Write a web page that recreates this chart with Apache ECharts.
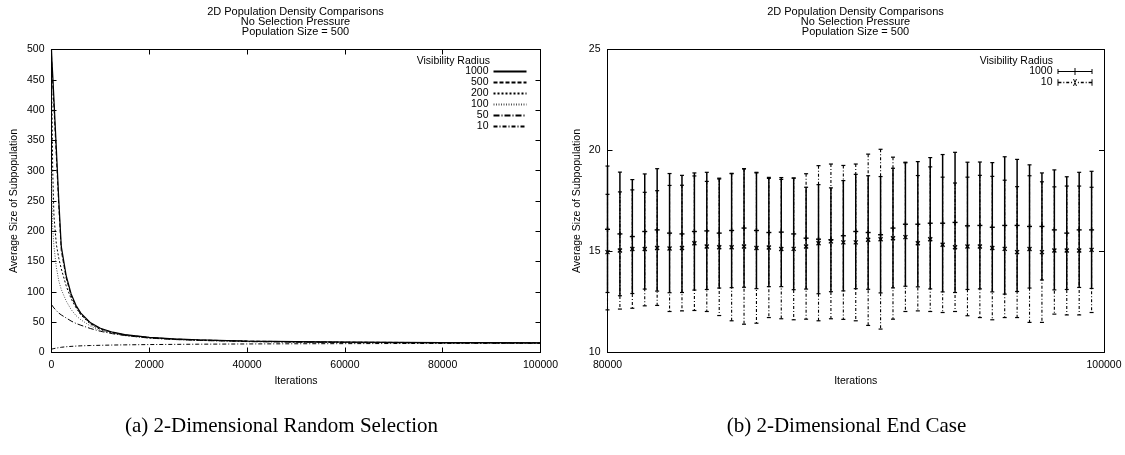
<!DOCTYPE html>
<html><head><meta charset="utf-8">
<script src="https://cdn.jsdelivr.net/npm/echarts@6/dist/echarts.min.js"></script>
<style>html,body{margin:0;padding:0;background:#fff}#c{width:1125px;height:455px}</style>
</head><body><div id="c"></div>
<script>
// ---- Left chart: average subpopulation size vs iterations ----
const iterLeft = [0, 100, 250, 500, 1000, 1500, 2000, 3000, 4000, 5000, 6000, 8000, 10000, 12500, 15000, 20000, 25000, 30000, 40000, 50000, 60000, 70000, 80000, 90000, 100000];
const r1000 = [500, 480, 458, 418, 335, 250, 175, 127, 97, 78, 65, 49, 40, 33.5, 29.5, 25, 22.5, 21, 19, 18, 17.3, 16.8, 16.4, 16.2, 16.0];
const r500  = [490, 468, 445, 405, 322, 240, 168, 123, 94, 76, 63, 48, 39, 33, 29, 24.8, 22.2, 20.7, 18.8, 17.8, 17.1, 16.7, 16.3, 16.1, 16.0];
const r200  = [480, 400, 300, 225, 178, 155, 138, 110, 89, 74, 62, 46.5, 38, 32.5, 28.5, 24.3, 21.8, 20.4, 18.4, 17.5, 16.9, 16.5, 16.2, 16.0, 15.9];
const r100  = [300, 250, 205, 175, 140, 118, 104, 85, 71, 61, 54, 43.5, 36.5, 31.5, 28, 23.8, 21.4, 20, 18.1, 17.2, 16.7, 16.3, 16.0, 15.8, 15.7];
const r50   = [79, 78, 76, 73.5, 69, 65, 62, 57, 52, 48, 45, 39.5, 35, 31, 28, 23.8, 21.5, 20, 18, 17, 16.4, 16, 15.8, 15.6, 15.5];
const r10   = [5.5, 5.7, 6, 6.5, 7.3, 8, 8.6, 9.5, 10.1, 10.6, 11, 11.5, 11.9, 12.3, 12.6, 13.1, 13.4, 13.7, 14.1, 14.4, 14.6, 14.8, 14.9, 15, 15];
const leftNames = ['1000', '500', '200', '100', '50', '10'];

// ---- Right chart: end case, mean +/- std ----
const iterRight = [80000, 80500, 81000, 81500, 82000, 82500, 83000, 83500, 84000, 84500,
  85000, 85500, 86000, 86500, 87000, 87500, 88000, 88500, 89000, 89500,
  90000, 90500, 91000, 91500, 92000, 92500, 93000, 93500, 94000, 94500,
  95000, 95500, 96000, 96500, 97000, 97500, 98000, 98500, 99000, 99500];
const mean1000 = [16.1, 15.87, 15.74, 15.99, 16.07, 15.91, 15.87, 15.99, 16.02, 15.91, 16.04, 16.16, 16.04, 15.94, 15.96, 15.87, 15.66, 15.61, 15.58, 15.78,
  15.99, 15.94, 15.83, 16.16, 16.35, 16.35, 16.4, 16.4, 16.44, 16.27, 16.29, 16.2, 16.29, 16.29, 16.24, 16.24, 16.07, 15.91, 16.07, 16.07];
const std1000 = [3.13, 3.06, 2.82, 2.85, 3.03, 2.95, 2.9, 2.9, 2.9, 2.72, 2.83, 2.93, 2.88, 2.68, 2.7, 2.76, 2.52, 2.7, 2.57, 2.73,
  2.83, 2.81, 2.88, 2.96, 3.07, 3.1, 3.25, 3.4, 3.47, 3.15, 3.14, 3.2, 3.4, 3.27, 3.05, 2.65, 2.97, 2.79, 2.85, 2.9];
const mean10 = [14.97, 15.05, 15.12, 15.12, 15.17, 15.15, 15.17, 15.41, 15.25, 15.21, 15.21, 15.25, 15.17, 15.2, 15.12, 15.13, 15.25, 15.41, 15.5, 15.45,
  15.45, 15.58, 15.61, 15.66, 15.71, 15.41, 15.61, 15.33, 15.21, 15.25, 15.25, 15.17, 15.13, 14.97, 15.12, 14.97, 15.05, 15.05, 15.05, 15.08];
const std10 = [2.86, 2.9, 2.93, 2.81, 2.84, 3.12, 3.11, 3.33, 3.22, 3.38, 3.64, 3.85, 3.72, 3.47, 3.45, 3.51, 3.6, 3.84, 3.83, 3.81,
  3.88, 4.24, 4.45, 4.01, 3.68, 3.35, 3.58, 3.35, 3.18, 3.43, 3.52, 3.55, 3.4, 3.24, 3.63, 3.48, 3.15, 3.19, 3.19, 3.1];

const SANS = 'Liberation Sans, Arial, Helvetica, sans-serif';
const SERIF = 'Liberation Serif, Times New Roman, serif';
const FS = 10.5;

const chart = echarts.init(document.getElementById('c'), null, {renderer: 'canvas'});

function axisBase(extra) {
  return Object.assign({
    type: 'value',
    axisLine: {show: true, onZero: false, lineStyle: {color: '#000', width: 1}},
    axisTick: {show: true, inside: true, length: 5, lineStyle: {color: '#000', width: 1}},
    axisLabel: {color: '#000', fontSize: FS, fontFamily: SANS, margin: 7, formatter: v => String(v)},
    splitLine: {show: false},
    nameTextStyle: {color: '#000', fontSize: FS, fontFamily: SANS}
  }, extra);
}
function mirror(extra) {
  const a = axisBase(extra);
  a.axisLabel = {show: false};
  return a;
}

const leftSeriesData = [r1000, r500, r200, r100, r50, r10];
const leftStyles = [
  {color: '#000', width: 1.2, type: 'solid'},
  {color: '#000', width: 1, type: [4, 2]},
  {color: '#000', width: 1, type: [2, 2]},
  {color: '#555', width: 1, type: [1, 1.5]},
  {color: '#000', width: 1, type: [6, 2, 1, 2]},
  {color: '#000', width: 1, type: [4, 2, 1, 2]}
];
const lineSeries = leftNames.map((n, k) => ({
  name: n, type: 'line', xAxisIndex: 0, yAxisIndex: 0,
  data: iterLeft.map((x, i) => [x, leftSeriesData[k][i]]),
  symbol: 'none', showSymbol: false, smooth: false,
  lineStyle: leftStyles[k], itemStyle: {color: leftStyles[k].color},
  z: 10 - k, animation: false
}));

function errRender(marker, dash, lw) {
  return function (params, api) {
    const x = api.value(0), m = api.value(1), s = api.value(2);
    const pt = api.coord([x, m + s]), pb = api.coord([x, m - s]), pc = api.coord([x, m]);
    const cw = 2;
    const ch = [
      {type: 'line', shape: {x1: pt[0], y1: pt[1], x2: pb[0], y2: pb[1]}, style: {stroke: '#000', lineWidth: lw, lineDash: dash}},
      {type: 'line', shape: {x1: pt[0] - cw, y1: pt[1], x2: pt[0] + cw, y2: pt[1]}, style: {stroke: '#000', lineWidth: 1.2}},
      {type: 'line', shape: {x1: pb[0] - cw, y1: pb[1], x2: pb[0] + cw, y2: pb[1]}, style: {stroke: '#000', lineWidth: 1.2}}
    ];
    if (marker === 'plus') {
      ch.push({type: 'line', shape: {x1: pc[0] - 2.5, y1: pc[1], x2: pc[0] + 2.5, y2: pc[1]}, style: {stroke: '#000', lineWidth: 1.4}});
      ch.push({type: 'line', shape: {x1: pc[0], y1: pc[1] - 2.5, x2: pc[0], y2: pc[1] + 2.5}, style: {stroke: '#000', lineWidth: 1.4}});
    } else {
      ch.push({type: 'line', shape: {x1: pc[0] - 2, y1: pc[1] - 2, x2: pc[0] + 2, y2: pc[1] + 2}, style: {stroke: '#000', lineWidth: 1.3}});
      ch.push({type: 'line', shape: {x1: pc[0] - 2, y1: pc[1] + 2, x2: pc[0] + 2, y2: pc[1] - 2}, style: {stroke: '#000', lineWidth: 1.3}});
    }
    return {type: 'group', children: ch};
  };
}

const errSeries = [
  {name: 'r10', type: 'custom', xAxisIndex: 2, yAxisIndex: 2,
   data: iterRight.map((x, i) => [x, mean10[i], std10[i]]),
   encode: {x: 0, y: 1}, renderItem: errRender('cross', [3, 2, 1, 2], 1.1),
   itemStyle: {color: '#000'}, z: 2, animation: false},
  {name: 'r1000', type: 'custom', xAxisIndex: 2, yAxisIndex: 2,
   data: iterRight.map((x, i) => [x, mean1000[i], std1000[i]]),
   encode: {x: 0, y: 1}, renderItem: errRender('plus', null, 1.5),
   itemStyle: {color: '#000'}, z: 3, animation: false}
];

const icon1000 = 'path://M0,4L36,4L36,5L0,5Z M0,2L1,2L1,7L0,7Z M35,2L36,2L36,7L35,7Z M17.5,1L18.5,1L18.5,8L17.5,8Z';
const icon10 = 'path://M0,2L1,2L1,7L0,7Z M35,2L36,2L36,7L35,7Z M1,4L4,4L4,5L1,5Z M6,4L7,4L7,5L6,5Z M9,4L12,4L12,5L9,5Z M14,4L15,4L15,5L14,5Z ' +
  'M16,1.8L17,1.8L20,7.2L19,7.2Z M19,1.8L20,1.8L17,7.2L16,7.2Z M21,4L22,4L22,5L21,5Z M24,4L27,4L27,5L24,5Z M29,4L30,4L30,5L29,5Z M32,4L35,4L35,5L32,5Z';

const titleText = '2D Population Density Comparisons\nNo Selection Pressure\nPopulation Size = 500';
const tStyle = {color: '#000', fontSize: 11, fontWeight: 'normal', fontFamily: SANS, lineHeight: 10};

chart.setOption({
  backgroundColor: '#fff',
  animation: false,
  title: [
    {text: titleText, left: 295.5, top: 7, textAlign: 'center', padding: 0, textStyle: tStyle},
    {text: titleText, left: 855.5, top: 7, textAlign: 'center', padding: 0, textStyle: tStyle},
    {text: 'Visibility Radius', left: 490, top: 55.5, textAlign: 'right', padding: 0, textStyle: {color: '#000', fontSize: FS, fontWeight: 'normal', fontFamily: SANS}},
    {text: 'Visibility Radius', left: 1053, top: 55.5, textAlign: 'right', padding: 0, textStyle: {color: '#000', fontSize: FS, fontWeight: 'normal', fontFamily: SANS}},
    {text: '(a) 2-Dimensional Random Selection', left: 281.5, top: 416, textAlign: 'center', padding: 0, textStyle: {color: '#000', fontSize: 21, fontWeight: 'normal', fontFamily: SERIF}},
    {text: '(b) 2-Dimensional End Case', left: 846.5, top: 416, textAlign: 'center', padding: 0, textStyle: {color: '#000', fontSize: 21, fontWeight: 'normal', fontFamily: SERIF}}
  ],
  legend: [
    {orient: 'vertical', right: 597.5, top: 66, padding: 0, itemGap: 0, align: 'right',
     itemWidth: 33, itemHeight: 7, selectedMode: false,
     data: leftNames,
     itemStyle: {opacity: 0},
     formatter: n => '{a|' + n + '}',
     textStyle: {color: '#000', fontFamily: SANS, fontSize: FS, rich: {a: {width: 26, align: 'right', fontSize: FS, fontFamily: SANS, height: 9.8, lineHeight: 9.8, color: '#000'}}}},
    {orient: 'vertical', right: 32.5, top: 66, padding: 0, itemGap: 0, align: 'right',
     itemWidth: 35, itemHeight: 7, selectedMode: false, symbolKeepAspect: false,
     data: [{name: 'r1000', icon: icon1000}, {name: 'r10', icon: icon10}],
     formatter: n => '{a|' + n.slice(1) + '}',
     textStyle: {color: '#000', fontFamily: SANS, fontSize: FS, rich: {a: {width: 26, align: 'right', fontSize: FS, fontFamily: SANS, height: 10.2, lineHeight: 10.2, color: '#000'}}}}
  ],
  grid: [
    {left: 51.5, right: 1125 - 540.5, top: 49.5, bottom: 455 - 352.5, containLabel: false},
    {left: 607.5, right: 1125 - 1104, top: 49.5, bottom: 455 - 352.5, containLabel: false}
  ],
  xAxis: [
    axisBase({gridIndex: 0, position: 'bottom', min: 0, max: 100000, interval: 20000, name: 'Iterations', nameLocation: 'middle', nameGap: 23}),
    mirror({gridIndex: 0, position: 'top', min: 0, max: 100000, interval: 20000}),
    axisBase({gridIndex: 1, position: 'bottom', min: 80000, max: 100000, interval: 20000, name: 'Iterations', nameLocation: 'middle', nameGap: 23}),
    mirror({gridIndex: 1, position: 'top', min: 80000, max: 100000, interval: 20000})
  ],
  yAxis: [
    axisBase({gridIndex: 0, position: 'left', min: 0, max: 500, interval: 50, name: 'Average Size of Subpopulation', nameLocation: 'middle', nameGap: 32}),
    mirror({gridIndex: 0, position: 'right', min: 0, max: 500, interval: 50}),
    axisBase({gridIndex: 1, position: 'left', min: 10, max: 25, interval: 5, name: 'Average Size of Subpopulation', nameLocation: 'middle', nameGap: 25}),
    mirror({gridIndex: 1, position: 'right', min: 10, max: 25, interval: 5})
  ],
  series: lineSeries.concat(errSeries)
});
</script>
</body></html>
